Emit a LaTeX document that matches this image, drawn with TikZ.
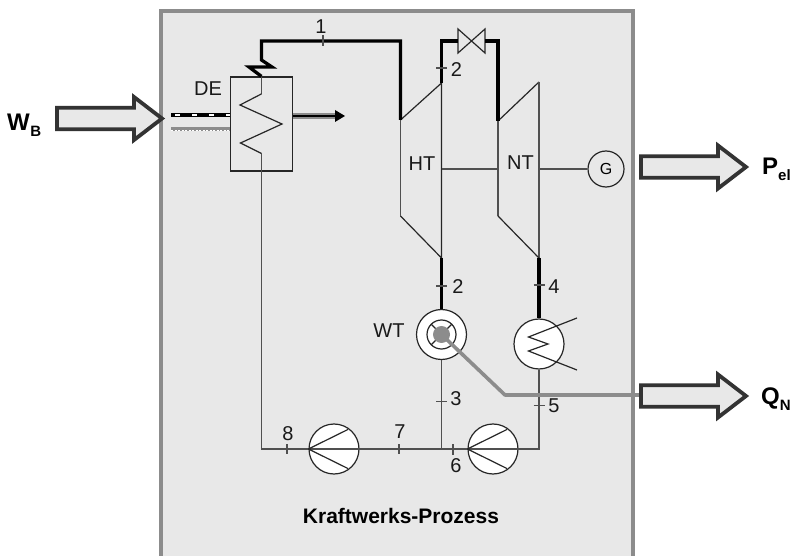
\documentclass[tikz,border=0pt]{standalone}
\usepackage{fontspec}
\setmainfont{Liberation Sans}
\usetikzlibrary{arrows.meta,calc}
\definecolor{panel}{HTML}{E8E8E8}
\definecolor{frame}{HTML}{8C8C8C}
\definecolor{pipe}{HTML}{505050}
\definecolor{darkedge}{HTML}{333333}
\tikzset{
  thin line/.style={draw=pipe,line width=1.25pt},
  steam/.style={draw=black,line width=3.3pt,line join=miter},
  heat/.style={draw=frame,line width=3.6pt},
  tick/.style={draw=pipe,line width=1.2pt},
  lbl/.style={font=\fontsize{20}{20}\selectfont,inner sep=0pt,text=black!90},
  bigarrow/.style={draw=darkedge,fill=panel,line width=3.8pt,line join=miter},
  ball/.style={circle,draw=black!85,line width=1.2pt,fill=white,inner sep=0pt,minimum size=50pt},
  sym/.style={font=\bfseries\fontsize{24}{24}\selectfont,inner sep=0pt,text=black},
  unit/.style={draw=black!85,line width=1.2pt}
}
\newcommand{\bigarrowat}[3]{% x start, y centre, x tip
  \draw[bigarrow] (#1,#2-10.8) -- (#3-28,#2-10.8) -- (#3-28,#2-21.5) -- (#3,#2)
    -- (#3-28,#2+21.5) -- (#3-28,#2+10.8) -- (#1,#2+10.8) -- cycle;}
\begin{document}
\begin{tikzpicture}[x=1pt,y=-1pt]
\useasboundingbox (0,0) rectangle (796,556);
% panel
\fill[panel] (161,11) rectangle (633,556);
\draw[frame,line width=4pt] (161,556) -- (161,11) -- (633,11) -- (633,556);

% anchor points
\coordinate (hip) at (400.5,120);
\coordinate (hop) at (441.5,83);
\coordinate (hlo) at (400.5,216);
\coordinate (hex) at (441.5,258);
\coordinate (nip) at (498,121);
\coordinate (nop) at (539,82);
\coordinate (nlo) at (498,216);
\coordinate (nex) at (539,258);
\coordinate (jl) at (261.5,449);
\coordinate (jm) at (441.5,449);
\coordinate (jr) at (539,449);
\coordinate (bend) at (505,395);
\coordinate (qin) at (641,395);
\coordinate (ghs) at (441.5,169);
\coordinate (gnl) at (498,169);
\coordinate (gnr) at (539,169);

% nodes
\node[draw=black!85,line width=1.2pt,fill=none,minimum width=62pt,minimum height=94pt,inner sep=0pt] (de) at (261.5,124) {};
\node[ball] (wt) at (441.5,334.5) {};
\node[ball] (kond) at (539,344) {};
\node[ball] (p1) at (334,449) {};
\node[ball] (p2) at (493,449) {};
\node[circle,draw=black!85,line width=1.2pt,fill=none,inner sep=0pt,minimum size=36pt,font=\fontsize{16}{16}\selectfont] (gen) at (606,169) {G};

% turbines
\draw[unit] (hip) -- (hop) -- (hex) -- (hlo);
\draw[thin line] (hip) -- (hlo);
\draw[unit] (nip) -- (nop);
\draw[thin line] (nop) -- (nex);
\draw[thin line] (nip) -- (nlo);
\draw[unit] (nlo) -- (nex);

% shaft
\draw[thin line] (ghs) -- (gnl);
\draw[thin line] (gnr) -- (gen.west);

% thin circuit
\draw[thin line] (de.south -| jl) -- (jl) -- (p1.west);
\draw[thin line] (p1.west) -- (p1.east) -- (jm) -- (p2.west);
\draw[thin line] (p2.west) -- (p2.east) -- (jr) -- (kond.south);
\draw[thin line] (wt.south) -- (jm);

% pump symbols
\draw[unit] (p1.west) -- ++(39.5,-19.5);
\draw[unit] (p1.west) -- ++(39.5,19.5);
\draw[unit] (p2.west) -- ++(39.5,-19.5);
\draw[unit] (p2.west) -- ++(39.5,19.5);

% evaporator coil
\draw[thin line] (de.north) -- ++(0,17.5) coordinate (c0);
\draw[unit] (c0) -- (240,105) -- (282,124) -- (240.5,143) -- (261.5,153.5) coordinate (c1);
\draw[thin line] (c1) -- (de.south);

% steam lines
\draw[steam] (de.north) -- (249,67) -- (272,67) -- (261.5,60) -- (261.5,41) -- (400.5,41) -- (hip);

% valve
\coordinate (vl) at (458,41);
\coordinate (vr) at (485,41);
\draw[unit] (458,29) -- (485,53) -- (485,29) -- (458,53) -- cycle;
\draw[steam] (hop) -- (441.5,41) -- (vl);
\draw[steam] (vr) -- (498,41) -- (nip);
\draw[steam] (hex) -- (wt.north);
\draw[steam] (nex) -- (kond.north);

% condenser
\draw[unit] (577,318) -- (528.5,337) -- (548,344) -- (528.5,351) -- (577,370);

% WT inner
\draw[unit] (wt.center) circle (14.5);
\draw[unit] ($(wt.center)+(-10.5,-10.5)$) -- ($(wt.center)+(10.5,10.5)$);
\draw[unit] ($(wt.center)+(-10.5,10.5)$) -- ($(wt.center)+(10.5,-10.5)$);
\fill[frame] (wt.center) circle (8.5);

% DE streams
\coordinate (fin) at (171,115);
\coordinate (ain) at (171,129);
\coordinate (aout) at (345,116);
\draw[black,line width=3.4pt] (fin) -- (fin -| de.west);
\draw[white,line width=1.2pt,dash pattern=on 5pt off 12pt,dash phase=-4pt] (fin) -- (fin -| de.west);
\draw[frame,line width=3.6pt] (ain) -- (ain -| de.west);
\draw[white,line width=.8pt,dash pattern=on 2pt off 1.5pt] ($(ain)+(0,1)$) -- ($(ain -| de.west)+(0,1)$);
\draw[frame,line width=5.4pt] (de.east |- aout) -- (335,116);
\draw[black,line width=1.5pt] (de.east |- aout) -- (335,116);
\fill[black] (aout) -- (335,110) -- (335,122) -- cycle;

% heat line
\draw[heat,line join=round] (wt.center) -- (bend) -- (qin);

% ticks and labels
\draw[tick] (323,35) -- (323,46);
\draw[tick] (436,68) -- (447,68);
\draw[tick] (436,286) -- (447,286);
\draw[tick] (533.5,285) -- (544.5,285);
\draw[tick] (436,401.5) -- (447,401.5);
\draw[tick] (533.5,405.5) -- (544.5,405.5);
\draw[tick] (287,444) -- (287,454);
\draw[tick] (399,444) -- (399,454);
\draw[tick] (453,444) -- (453,455);

\node[lbl] (l1) at (321,27) {1};
\node[lbl] (l2a) at (456.5,70) {2};
\node[lbl] (l2b) at (458,287) {2};
\node[lbl] (l3) at (456,399) {3};
\node[lbl] (l4) at (554,287) {4};
\node[lbl] (l5) at (554,406) {5};
\node[lbl] (l6) at (456,466) {6};
\node[lbl] (l7) at (400,432) {7};
\node[lbl] (l8) at (288,434) {8};
\node[lbl] (lde) at (208,89) {DE};
\node[lbl] (lht) at (422,163.5) {HT};
\node[lbl] (lnt) at (520.5,163) {NT};
\node[lbl] (lwt) at (389,331) {WT};
\node[font=\bfseries\fontsize{21}{21}\selectfont,inner sep=0pt,text=black] (title) at (401,516) {Kraftwerks-Prozess};

% big arrows
\bigarrowat{57}{118.5}{162}
\bigarrowat{641}{167}{746}
\bigarrowat{641}{396}{746}

% symbols
\node[sym,anchor=base west] (wb) at (7,131) {W\kern0.5pt\raisebox{-6pt}{\fontsize{15}{15}\selectfont B}};
\node[sym,anchor=base west] (pel) at (762,174.5) {P\raisebox{-6pt}{\fontsize{15}{15}\selectfont el}};
\node[sym,anchor=base west] (qn) at (761,404) {Q\raisebox{-6pt}{\fontsize{15}{15}\selectfont N}};
\end{tikzpicture}
\end{document}
